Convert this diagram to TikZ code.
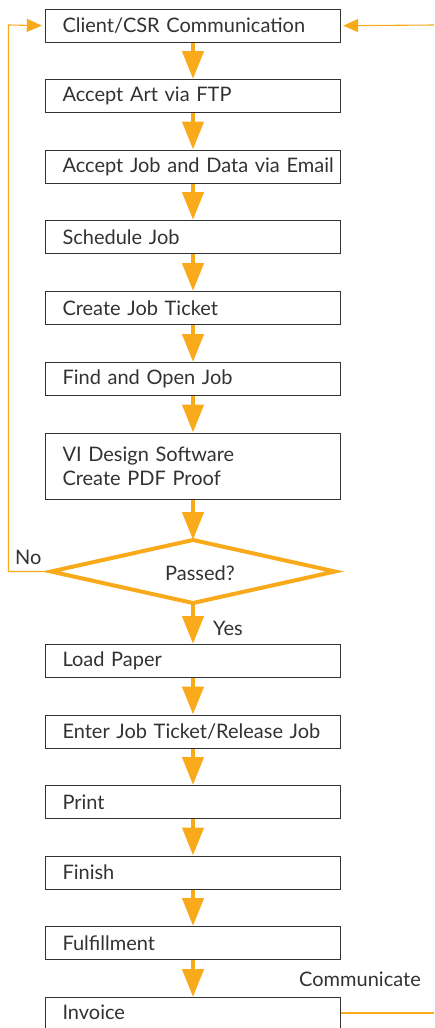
\documentclass[tikz,border=0pt]{standalone}
\usepackage{fontspec}
\setmainfont{Lato}
\usetikzlibrary{arrows.meta,shapes.geometric}
\definecolor{flow}{RGB}{248,170,26}
\definecolor{ink}{RGB}{50,50,50}
\tikzset{
  stepbox/.style={draw=ink, line width=1.4pt, rectangle, minimum width=295pt, minimum height=33pt,
    text width=295pt, inner xsep=0pt, inner ysep=0pt, align=left, text=ink,
    font=\fontsize{20}{24}\selectfont, execute at begin node={\leftskip=17pt}, anchor=north},
  bigarrow/.style={draw=flow, line width=4.5pt, -{Triangle[width=21pt,length=28pt]}},
  thinline/.style={draw=flow, line width=1.1pt},
  thinarrow/.style={draw=flow, line width=1.1pt, -{Triangle[width=13pt,length=15pt]}},
  lbl/.style={text=ink, font=\fontsize{20}{24}\selectfont, inner sep=0pt}
}
\begin{document}
\begin{tikzpicture}[x=1pt,y=-1pt]
\useasboundingbox (0,0) rectangle (434,1028);
\node[stepbox] (b1) at (193,8.5) {Client/CSR Communication};
\node[stepbox] (b2) at (193,79) {Accept Art via FTP};
\node[stepbox] (b3) at (193,149.5) {Accept Job and Data via Email};
\node[stepbox] (b4) at (193,220) {Schedule Job};
\node[stepbox] (b5) at (193,291) {Create Job Ticket};
\node[stepbox] (b6) at (193,362) {Find and Open Job};
\node[stepbox, minimum height=66pt] (b7) at (193,432.5) {VI Design Software\\Create PDF Proof};
\node[diamond, draw=flow, line width=4pt, minimum width=284pt, minimum height=63pt, inner sep=0pt, outer sep=0pt] (d) at (193,571.5) {};
\node[lbl] (pq) at (200,573) {Passed?};
\node[stepbox] (b8) at (193,644) {Load Paper};
\node[stepbox] (b9) at (193,714.5) {Enter Job Ticket/Release Job};
\node[stepbox] (b10) at (193,785) {Print};
\node[stepbox] (b11) at (193,855.5) {Finish};
\node[stepbox] (b12) at (193,926) {Fulfillment};
\node[stepbox, minimum height=40pt, text depth=11pt] (b13) at (193,997) {Invoice};
\draw[bigarrow] (b1) -- (b2);
\draw[bigarrow] (b2) -- (b3);
\draw[bigarrow] (b3) -- (b4);
\draw[bigarrow] (b4) -- (b5);
\draw[bigarrow] (b5) -- (b6);
\draw[bigarrow] (b6) -- (b7);
\draw[bigarrow] (b7.south) -- (d.north);
\draw[bigarrow] (d.south) -- (b8.north);
\draw[bigarrow] (b8) -- (b9);
\draw[bigarrow] (b9) -- (b10);
\draw[bigarrow] (b10) -- (b11);
\draw[bigarrow] (b11) -- (b12);
\draw[bigarrow] (b12) -- (b13);
\coordinate (dl) at ([xshift=-8pt]d.west);
\coordinate (lc) at (8.5,25);
\draw[thinarrow, shorten >=3pt] (dl) -| (lc) -- (b1.west);
\coordinate (rc) at (434,25);
\draw[thinarrow, shorten >=2pt] (rc) -- (b1.east);
\coordinate (bc) at (434,1013);
\draw[thinline] (b13.east |- bc) -- (bc);
\node[lbl, anchor=base west] (no) at (15,564) {No};
\node[lbl, anchor=base west] (yes) at (213,635) {Yes};
\node[lbl, anchor=base west] (comm) at (299,986) {Communicate};
\end{tikzpicture}
\end{document}
